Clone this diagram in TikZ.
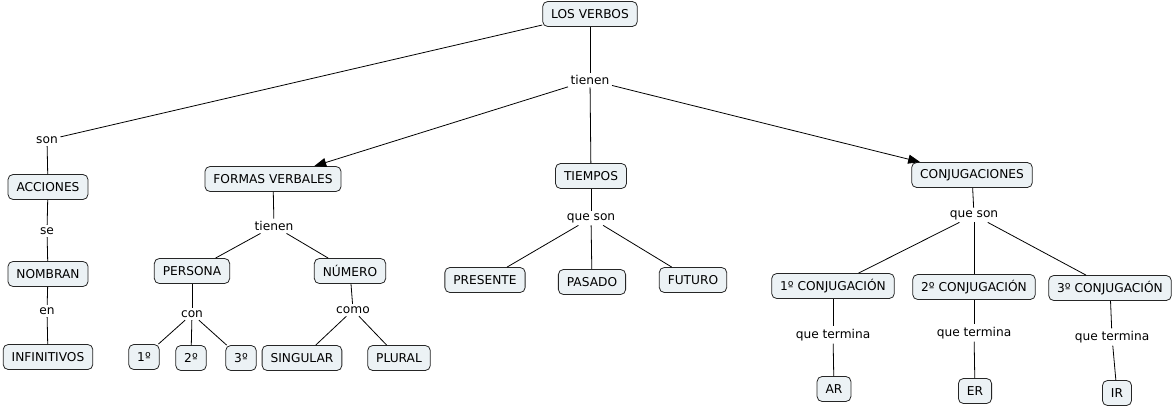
\documentclass[tikz,border=0pt]{standalone}
\usepackage{fontspec}
\setmainfont{DejaVu Sans}
\usetikzlibrary{arrows.meta}
\definecolor{cmapfill}{RGB}{236,242,245}
\tikzset{
    concept/.style={draw=black!85, line width=0.8pt, fill=cmapfill, rounded corners=5pt,
            minimum height=25pt, inner xsep=8.5pt, inner ysep=2pt, font=\fontsize{12.2}{14}\selectfont},
    linkword/.style={inner sep=2.5pt, font=\fontsize{12.2}{14}\selectfont},
    link/.style={line width=0.8pt},
    linkarrow/.style={link, -{Triangle[length=12pt,width=9pt]}}
}
\begin{document}
\begin{tikzpicture}[x=1pt,y=-1pt]
            \useasboundingbox (0,0) rectangle (1175,407);
            % raiz
            \node (verbos) at (590,14) [concept] {LOS VERBOS};
            \node (tienen) at (590,80) [linkword] {tienen};
            % acciones
            \node (son) at (47,140) [linkword] {son};
            \node (acciones) at (48,187) [concept] {ACCIONES};
            \node (se) at (47,231) [linkword] {se};
            \node (nombran) at (48,274) [concept] {NOMBRAN};
            \node (en) at (47,311) [linkword] {en};
            \node (infinitivos) at (48,357) [concept] {INFINITIVOS};
            % formas verbales
            \node (formas) at (273,179) [concept] {FORMAS VERBALES};
            \node (tienenfv) at (274,226) [linkword] {tienen};
            \node (persona) at (192,271) [concept] {PERSONA};
            \node (numero) at (350,271) [concept] {NÚMERO};
            \node (con) at (192,314) [linkword] {con};
            \node (pri) at (144,357) [concept] {1º};
            \node (seg) at (191,358) [concept] {2º};
            \node (ter) at (241,358) [concept] {3º};
            \node (como) at (353,310) [linkword] {como};
            \node (singular) at (302,358) [concept] {SINGULAR};
            \node (plural) at (399,358) [concept] {PLURAL};
            % tiempos
            \node (tiempos) at (591,176) [concept] {TIEMPOS};
            \node (queson) at (591,218) [linkword] {que son};
            \node (presente) at (485,280) [concept] {PRESENTE};
            \node (pasado) at (592,282) [concept] {PASADO};
            \node (futuro) at (693,280) [concept] {FUTURO};
            % conjugaciones
            \node (conjug) at (972,175) [concept] {CONJUGACIONES};
            \node (quesonc) at (974,215) [linkword] {que son};
            \node (conjA) at (833,286) [concept] {1º CONJUGACIÓN};
            \node (conjB) at (974,287) [concept] {2º CONJUGACIÓN};
            \node (conjC) at (1110,288) [concept] {3º CONJUGACIÓN};
            \node (terminaA) at (833,335) [linkword] {que termina};
            \node (terminaB) at (974,333) [linkword] {que termina};
            \node (terminaC) at (1112,337) [linkword] {que termina};
            \node (ar) at (834,389) [concept] {AR};
            \node (er) at (975,391) [concept] {ER};
            \node (ir) at (1117,393) [concept] {IR};
            % enlaces
            \foreach \a/\b in {verbos/tienen, verbos/son, son/acciones, acciones/se, se/nombran,
                    nombran/en, en/infinitivos, tienen/tiempos,
                    formas/tienenfv, tienenfv/persona, tienenfv/numero, persona/con, con/pri,
                    con/seg, con/ter, numero/como, como/singular, como/plural,
                    tiempos/queson, queson/presente, queson/pasado, queson/futuro,
                    conjug/quesonc, quesonc/conjA, quesonc/conjB, quesonc/conjC,
                    conjA/terminaA, terminaA/ar, conjB/terminaB, terminaB/er,
                    conjC/terminaC, terminaC/ir} {
                    \draw[link] (\a) -- (\b);
                }
            \draw[linkarrow] (tienen) -- (formas);
            \draw[linkarrow] (tienen) -- (conjug);
        \end{tikzpicture}
\end{document}
